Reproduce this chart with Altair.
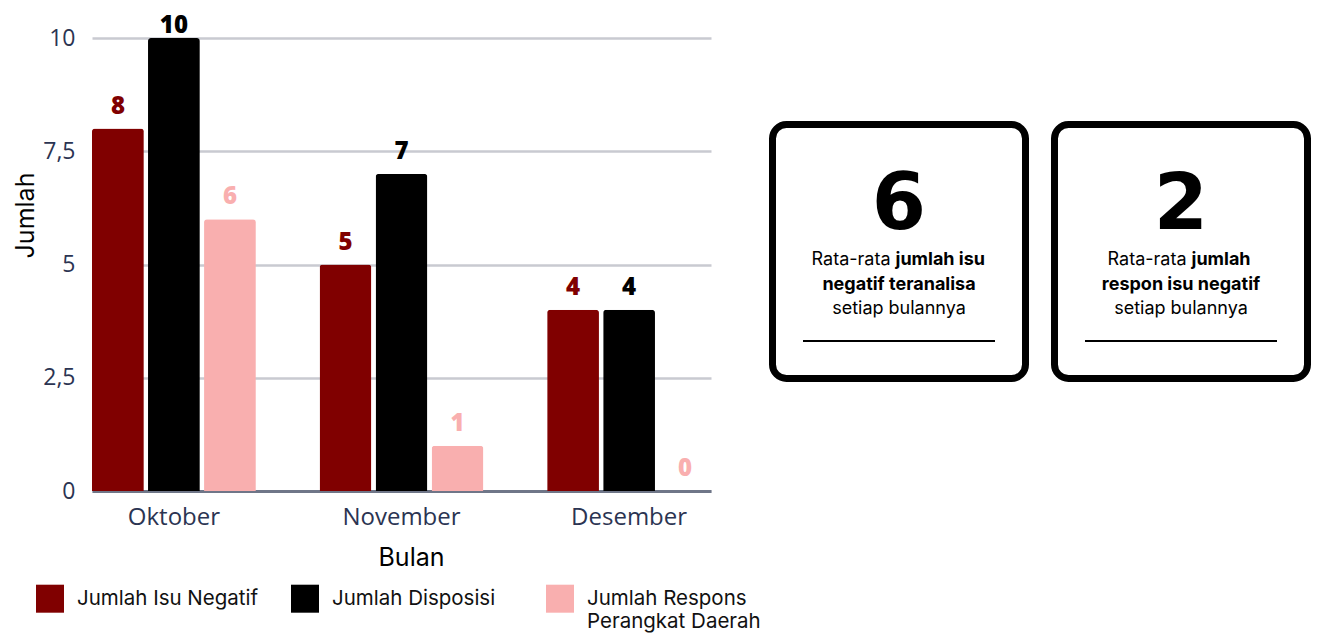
import altair as alt
import pandas as pd

# ---------------- data ----------------
months = ["Oktober", "November", "Desember"]
series = ["Jumlah Isu Negatif", "Jumlah Disposisi", "Jumlah Respons Perangkat Daerah"]
isu_negatif = [8, 5, 4]
disposisi = [10, 7, 4]
respons_pd = [6, 1, 0]
colors = ["#800000", "#000000", "#F9AFAF"]
y_ticks = [0, 2.5, 5, 7.5, 10]

card_ids = ["k1", "k2"]
card_values = [6, 2]
card_line1_normal = ["Rata-rata", "Rata-rata"]
card_line1_bold = ["jumlah isu", "jumlah"]
card_line2_bold = ["negatif teranalisa", "respon isu negatif"]
card_line3 = ["setiap bulannya", "setiap bulannya"]

rows = []
for s, vals in zip(series, [isu_negatif, disposisi, respons_pd]):
    for m, v in zip(months, vals):
        rows.append({"Bulan": m, "Seri": s, "Jumlah": v})
df = pd.DataFrame(rows)

cards = pd.DataFrame({
    "card": card_ids,
    "value": card_values,
    "l1n": card_line1_normal,
    "l1b": card_line1_bold,
    "l2": card_line2_bold,
    "l3": card_line3,
})

# ---------------- styles ----------------
AX_FONT = "Open Sans"
TXT_FONT = "Inter"
NUM_FONT = "Open Sans"
BIG_FONT = "DejaVu Sans"
AX_COLOR = "#2B3452"

x_axis = alt.Axis(
    labelAngle=0, ticks=False, grid=False,
    domainColor="#6F7688", domainWidth=3,
    labelFont=AX_FONT, labelFontSize=24, labelColor=AX_COLOR, labelPadding=14,
    titleFont=TXT_FONT, titleFontSize=25, titleFontWeight="normal",
    titleColor="#000000", titleX=319, titleY=74, titleAlign="center",
    titleBaseline="alphabetic",
)
y_axis = alt.Axis(
    values=y_ticks, format=".1~f", labelExpr="replace(datum.label, '.', ',')",
    domain=False, ticks=False,
    gridColor="#C9CAD1", gridWidth=2.5,
    labelFont=AX_FONT, labelFontSize=23, labelColor=AX_COLOR, labelPadding=17,
    titleFont=TXT_FONT, titleFontSize=25, titleFontWeight="normal",
    titleColor="#000000", titleX=-59, titleY=177, titleAlign="center",
    titleBaseline="alphabetic",
)
y_scale = alt.Scale(domain=[0, 10], nice=False)

legend = alt.Legend(
    title=None, orient="none", legendX=-56, legendY=553,
    direction="horizontal", columns=3, gridAlign="all", columnPadding=32,
    symbolType="M-1,-1.45H1V0.55H-1Z", symbolSize=784, symbolStrokeWidth=0, symbolOpacity=1,
    labelFont=TXT_FONT, labelFontSize=20.5, labelColor="#111111", labelOffset=13,
    labelBaseline="alphabetic", labelLimit=400, padding=0,
    labelExpr="datum.label == 'Jumlah Respons Perangkat Daerah' ? ['Jumlah Respons', 'Perangkat Daerah'] : [datum.label, '']",
)

# ---------------- bar chart ----------------
base = alt.Chart(df).encode(
    x=alt.X("Bulan:N", sort=months, title="Bulan",
            scale=alt.Scale(paddingInner=0.28, paddingOuter=0), axis=x_axis),
    xOffset=alt.XOffset("Seri:N", sort=series,
                        scale=alt.Scale(domain=series, paddingInner=0.075, paddingOuter=0)),
    color=alt.Color("Seri:N", sort=series,
                    scale=alt.Scale(domain=series, range=colors), legend=legend),
)

bars = base.mark_bar(cornerRadiusTopLeft=3, cornerRadiusTopRight=3).encode(
    y=alt.Y("Jumlah:Q", title="Jumlah", scale=y_scale, axis=y_axis))
values = base.transform_calculate(
    label_pos="min(datum.Jumlah, 9.78)"
).mark_text(baseline="bottom", dy=-10, font=NUM_FONT, fontSize=24, fontWeight=800).encode(
    y=alt.Y("label_pos:Q", title="Jumlah", scale=y_scale, axis=y_axis),
    text="Jumlah:Q",
)
bar_group = alt.layer(bars, values)

# ---------------- summary cards ----------------
card_x = alt.X("card:N", scale=alt.Scale(type="band", domain=card_ids, range=[680.5, 1215.5],
                                         paddingInner=0.1028, paddingOuter=0), axis=None)
cbase = alt.Chart(cards).encode(x=card_x)

card_box = cbase.mark_rect(fill="white", stroke="black", strokeWidth=7, cornerRadius=14).encode(
    y=alt.value(86.5), y2=alt.value(340.5))
card_num = cbase.mark_text(font=BIG_FONT, fontSize=78, fontWeight="bold", color="black",
                           baseline="alphabetic").encode(y=alt.value(191), text="value:Q")
card_l2 = cbase.mark_text(font=TXT_FONT, fontSize=18, fontWeight="bold", color="black",
                          baseline="alphabetic").encode(y=alt.value(252), text="l2:N")
card_l3 = cbase.mark_text(font=TXT_FONT, fontSize=18, color="black",
                          baseline="alphabetic").encode(y=alt.value(276), text="l3:N")
card_rule = cbase.mark_rect(width=192, color="black").encode(y=alt.value(302), y2=alt.value(304))

split_dx = [-8.5, 5.5]
line1_layers = []
for cid, sdx in zip(card_ids, split_dx):
    sub = cbase.transform_filter(alt.datum.card == cid)
    line1_layers.append(sub.mark_text(font=TXT_FONT, fontSize=18, color="black", align="right",
                                      baseline="alphabetic", dx=sdx).encode(
        y=alt.value(227), text="l1n:N"))
    line1_layers.append(sub.mark_text(font=TXT_FONT, fontSize=18, fontWeight="bold", color="black",
                                      align="left", baseline="alphabetic", dx=sdx + 5).encode(
        y=alt.value(227), text="l1b:N"))

card_group = alt.layer(card_box, card_num, card_l2, card_l3, card_rule, *line1_layers)

chart = alt.layer(bar_group, card_group).resolve_scale(x="independent").properties(
    width=619, height=453,
    autosize=alt.AutoSizeParams(type="none"),
    padding={"left": 84, "top": 30, "right": 600, "bottom": 142},
).configure_view(stroke=None)

chart.save("out.html", embed_options={"renderer": "svg", "actions": False})
